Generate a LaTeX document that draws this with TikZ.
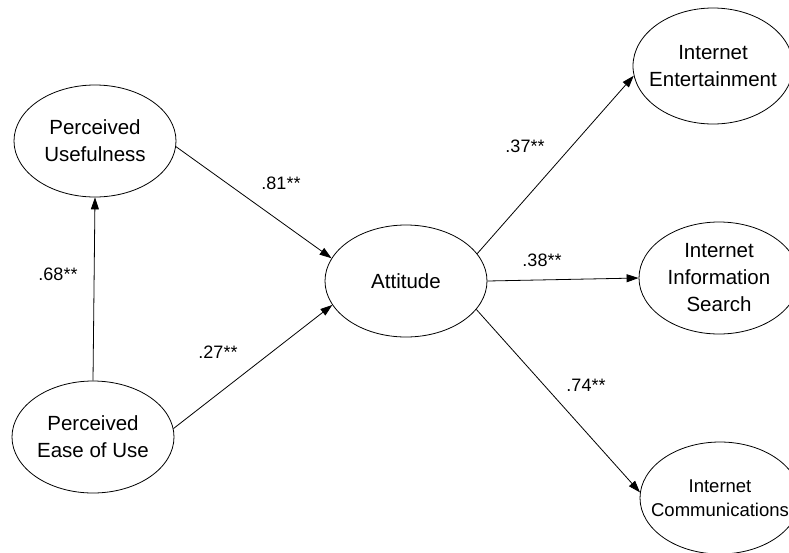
\documentclass[tikz,border=0pt]{standalone}
\usepackage{fontspec}
\setmainfont{Liberation Sans}
\usetikzlibrary{arrows.meta, positioning, shapes.geometric}

\begin{document}
\begin{tikzpicture}[
    x=1pt, y=-1pt,
    construct/.style={ellipse, draw, line width=0.8pt, minimum width=162pt, minimum height=112pt, inner sep=0pt, align=center, font=\fontsize{20.5}{27}\selectfont},
    arrow/.style={-{Triangle[length=12pt, width=8pt]}, line width=0.8pt},
    coef/.style={inner sep=0pt, font=\fontsize{18}{20}\selectfont}
]
    \useasboundingbox (0,0) rectangle (789,552);

    % Predictors
    \node [construct] (useful) at (95,141) {Perceived\\Usefulness};
    \node [construct] (ease) at (93,437) {Perceived\\Ease of Use};
    \node [construct] (attitude) at (406,281) {Attitude};

    % Internet uses (cut off at the right edge)
    \node [construct, minimum width=160pt, minimum height=116pt] (entertain) at (713,66) {Internet\\\makebox[0pt]{Entertainment}};
    \node [construct, minimum width=160pt] (search) at (719,278) {Internet\\Information\\Search};
    \node [construct, minimum width=160pt, font=\fontsize{18.5}{24}\selectfont] (communic) at (720,498) {Internet\\\makebox[0pt]{Communications}};

    % Path coefficients
    \node [coef] (c68) at (58,274) {.68**};
    \node [coef] (c81) at (281,183) {.81**};
    \node [coef] (c27) at (218,352) {.27**};
    \node [coef] (c37) at (525,146) {.37**};
    \node [coef] (c38) at (542,260) {.38**};
    \node [coef] (c74) at (586,385) {.74**};

    % Arrows
    \draw [arrow] (ease.north) -- (useful.south);
    \draw [arrow] (useful.-4) -- (attitude.163);
    \draw [arrow] (ease.6) -- (attitude.-162);
    \draw [arrow] (attitude.21) -- (entertain.-173);
    \draw [arrow] (attitude.east) -- (search.west);
    \draw [arrow] (attitude.-22) -- (communic.176);

\end{tikzpicture}
\end{document}
